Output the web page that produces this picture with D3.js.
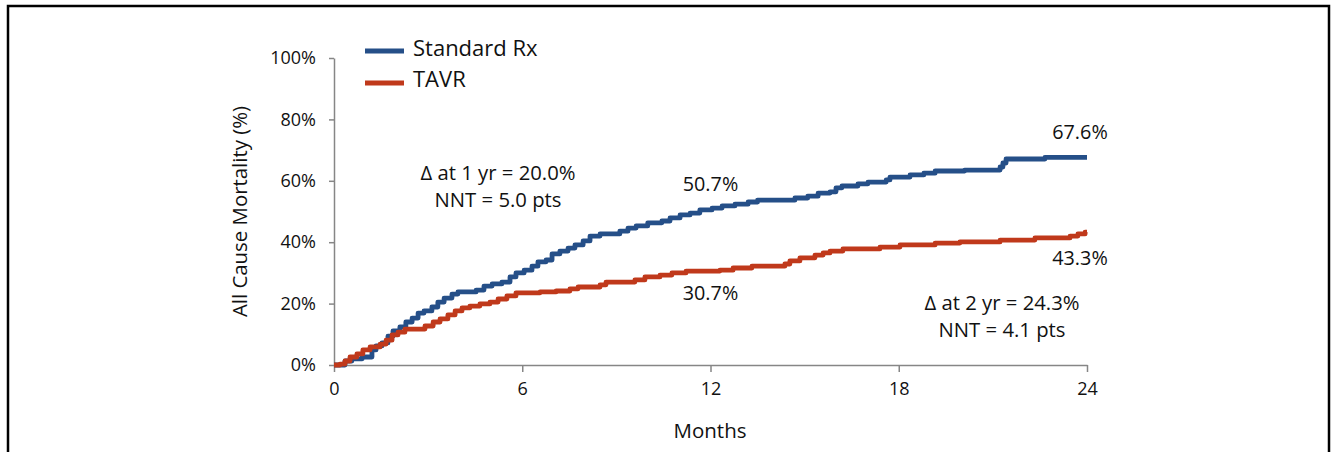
<!DOCTYPE html>
<html>
<head>
<meta charset="utf-8">
<script src="https://cdn.jsdelivr.net/npm/d3@7"></script>
<style>
  body { margin: 0; background: #fff; }
  text { font-family: "Open Sans", "Noto Sans", sans-serif; fill: #111; }
</style>
</head>
<body>
<div id="chart"></div>
<script>
// svg size (frame)
const FRAME_HEIGHT = 452;
const FRAME_WIDTH = 1334;
const MARGINS = {left: 334, right: 247, top: 58, bottom: 87};

const VIS_HEIGHT = FRAME_HEIGHT - MARGINS.top - MARGINS.bottom;
const VIS_WIDTH = FRAME_WIDTH - MARGINS.left - MARGINS.right;

// data: [month, mortality %]
const standardRx = [
  [0, 0], [0.35, 1.3], [0.57, 2.0], [0.9, 2.6], [1.21, 4.9], [1.34, 6.2], [1.53, 7.2],
  [1.72, 9.4], [1.88, 11.1], [2.1, 12.4], [2.29, 14.0], [2.49, 15.3], [2.68, 16.9],
  [2.87, 17.6], [3.12, 18.9], [3.31, 20.5], [3.51, 21.8], [3.76, 23.1], [3.95, 23.8],
  [4.53, 24.4], [4.78, 25.7], [5.04, 26.4], [5.35, 27.0], [5.61, 28.7], [5.8, 30.0],
  [6.06, 30.9], [6.31, 32.2], [6.5, 33.6], [6.76, 34.2], [6.95, 36.2], [7.2, 37.1],
  [7.46, 38.1], [7.68, 39.1], [7.94, 40.4], [8.16, 42.0], [8.48, 42.7], [9.11, 43.6],
  [9.37, 44.6], [9.63, 45.3], [10.0, 46.3], [10.45, 46.9], [10.71, 47.9], [11.03, 48.9],
  [11.35, 49.5], [11.66, 50.5], [12.05, 51.1], [12.37, 51.8], [12.78, 52.4], [13.2, 53.1],
  [13.5, 53.7], [14.69, 54.4], [15.1, 55.0], [15.43, 56.0], [15.81, 56.4], [16.0, 57.7],
  [16.19, 58.3], [16.7, 59.0], [17.02, 59.6], [17.6, 60.3], [17.72, 61.2], [18.36, 61.9],
  [18.8, 62.5], [19.16, 63.2], [20.1, 63.5], [21.23, 64.5], [21.32, 65.8], [21.42, 67.1],
  [22.66, 67.6], [24, 67.6]
];

const tavr = [
  [0, 0], [0.19, 0.3], [0.35, 1.3], [0.51, 2.6], [0.73, 3.6], [0.92, 4.9], [1.15, 5.9],
  [1.47, 6.8], [1.66, 8.1], [1.85, 9.8], [2.04, 10.7], [2.26, 11.7], [2.9, 12.7],
  [3.16, 14.0], [3.38, 15.0], [3.63, 16.3], [3.86, 17.6], [4.08, 18.6], [4.33, 19.2],
  [4.65, 19.9], [4.97, 20.5], [5.23, 21.5], [5.51, 22.5], [5.8, 23.5], [6.57, 23.8],
  [7.08, 24.1], [7.52, 24.8], [7.78, 25.4], [8.48, 26.1], [8.67, 27.0], [9.59, 27.7],
  [9.91, 28.7], [10.39, 29.3], [10.77, 30.0], [11.22, 30.6], [12.3, 30.9], [12.72, 31.6],
  [13.32, 32.2], [14.37, 32.9], [14.53, 33.9], [14.85, 34.9], [15.33, 35.8], [15.59, 36.5],
  [15.81, 37.1], [16.22, 37.8], [17.4, 38.4], [18.04, 39.1], [19.16, 39.7], [19.95, 40.1],
  [21.23, 40.7], [22.34, 41.4], [23.46, 42.0], [23.71, 42.7], [23.94, 43.3], [24, 43.3]
];

const seriesNames = ["Standard Rx", "TAVR"];
const seriesColors = ["#254f88", "#c0391b"];
const xTicks = [0, 6, 12, 18, 24];
const yTicks = [0, 20, 40, 60, 80, 100];

// value labels: [month, %, text]
const endLabels = [
  [12, 50.7, "50.7%"], [12, 30.7, "30.7%"], [24, 67.6, "67.6%"], [24, 43.3, "43.3%"]
];
const notes = [
  ["Δ at 1 yr = 20.0%", "NNT = 5.0 pts"],
  ["Δ at 2 yr = 24.3%", "NNT = 4.1 pts"]
];

const FRAME = d3.select("#chart")
                .append("svg")
                  .attr("height", FRAME_HEIGHT)
                  .attr("width", FRAME_WIDTH);

// outer border
FRAME.append("rect")
      .attr("x", 8)
      .attr("y", 6)
      .attr("width", 1321)
      .attr("height", 470)
      .attr("fill", "none")
      .attr("stroke", "#000")
      .attr("stroke-width", 2.5);

const x = d3.scaleLinear()
            .domain([0, 24])
            .range([MARGINS.left, MARGINS.left + VIS_WIDTH]);

const y = d3.scaleLinear()
            .domain([0, 100])
            .range([MARGINS.top + VIS_HEIGHT, MARGINS.top]);

// X axis
const xAxis = FRAME.append("g")
      .attr("transform", "translate(0," + (MARGINS.top + VIS_HEIGHT) + ")")
      .call(d3.axisBottom(x).tickValues(xTicks).tickSize(7).tickSizeOuter(0).tickPadding(10));

// Y axis
const yAxis = FRAME.append("g")
      .attr("transform", "translate(" + MARGINS.left + ",0)")
      .call(d3.axisLeft(y).tickValues(yTicks).tickSize(5).tickSizeOuter(0).tickPadding(13)
              .tickFormat((d) => d + "%"));

[xAxis, yAxis].forEach((g) => {
  g.select(".domain").attr("stroke", "#868686").attr("stroke-width", 1.5);
  g.selectAll(".tick line").attr("stroke", "#868686").attr("stroke-width", 1.5);
  g.selectAll(".tick text").attr("font-size", 18).attr("fill", "#111")
    .attr("font-family", "Open Sans, sans-serif");
});

// axis titles
FRAME.append("text")
      .attr("x", 710)
      .attr("y", 438)
      .attr("text-anchor", "middle")
      .attr("font-size", 20.5)
      .text("Months");

FRAME.append("text")
      .attr("transform", "translate(247," + (MARGINS.top + VIS_HEIGHT / 2) + ") rotate(-90)")
      .attr("text-anchor", "middle")
      .attr("font-size", 20.4)
      .text("All Cause Mortality (%)");

// the step lines
const line = d3.line()
                .curve(d3.curveStepAfter)
                .x((d) => x(d[0]))
                .y((d) => y(d[1]));

[standardRx, tavr].forEach((s, i) => {
  FRAME.append("path")
        .datum(s)
        .attr("fill", "none")
        .attr("stroke", seriesColors[i])
        .attr("stroke-width", 4.8)
        .attr("stroke-linejoin", "round")
        .attr("d", line);
});

// legend
seriesNames.forEach((name, i) => {
  const ly = 51 + i * 32;
  FRAME.append("line")
        .attr("x1", 365).attr("x2", 404)
        .attr("y1", ly).attr("y2", ly)
        .attr("stroke", seriesColors[i])
        .attr("stroke-width", 4.8);
  FRAME.append("text")
        .attr("x", 413)
        .attr("y", ly + 5 - i)
        .attr("font-size", 22)
        .text(name);
});

// value labels
const labelOffsets = [[0, -18], [0, 29], [-7, -18], [-7, 33]];
endLabels.forEach((d, i) => {
  FRAME.append("text")
        .attr("x", x(d[0]) + labelOffsets[i][0])
        .attr("y", y(d[1]) + labelOffsets[i][1])
        .attr("text-anchor", "middle")
        .attr("font-size", 19.8)
        .text(d[2]);
});

// delta / NNT notes
const notePos = [[498, 180], [1002, 310]];
notes.forEach((n, i) => {
  n.forEach((t, j) => {
    FRAME.append("text")
          .attr("x", notePos[i][0])
          .attr("y", notePos[i][1] + j * 27)
          .attr("text-anchor", "middle")
          .attr("font-size", 20.3)
          .text(t);
  });
});
</script>
</body>
</html>
